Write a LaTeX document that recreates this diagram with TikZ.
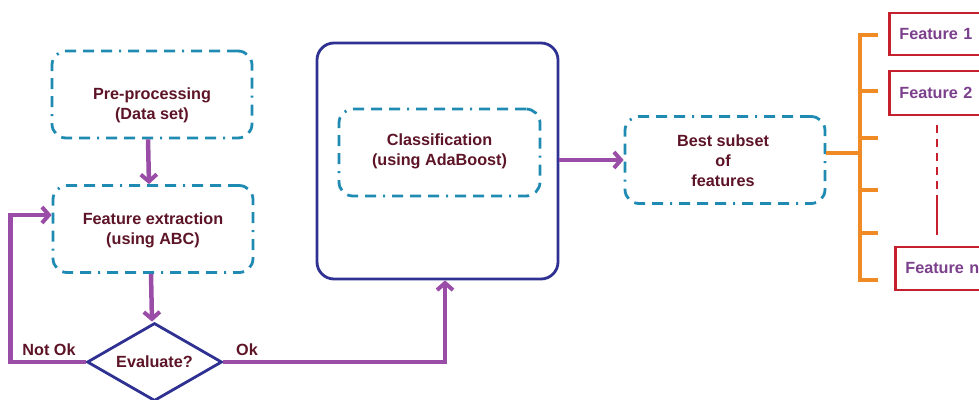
\documentclass[tikz,border=0pt]{standalone}
\usepackage{fontspec}
\setmainfont{Liberation Sans}
\usetikzlibrary{arrows.meta,shapes.geometric}

\definecolor{txtred}{HTML}{5C1426}
\definecolor{flowpurple}{HTML}{9A4DA6}
\definecolor{dashteal}{HTML}{1F8BB2}
\definecolor{frameblue}{HTML}{2E3192}
\definecolor{branchorange}{HTML}{F08A24}
\definecolor{featred}{HTML}{C4202E}
\definecolor{feattext}{HTML}{7B3F8C}

\tikzset{
  dashbox/.style={draw=dashteal, line width=2.8pt, rounded corners=14pt,
    dash pattern=on 11pt off 7pt on 11pt off 7pt on 11pt off 7pt on 2pt off 7pt,
    minimum width=200pt, minimum height=87pt, inner sep=0pt},
  lbl/.style={text=txtred, font=\fontsize{16.2}{20}\selectfont\bfseries, align=center, inner sep=0pt},
  flow/.style={draw=flowpurple, line width=4.5pt,
    -{Straight Barb[length=7pt,width=16pt,line width=4pt]}},
  featbox/.style={draw=featred, line width=2.8pt, text=feattext,
    font=\fontsize{16.2}{18}\selectfont\bfseries, minimum height=42pt,
    text width=92pt, inner xsep=10pt, align=left, anchor=west},
  branch/.style={draw=branchorange, line width=4.5pt},
}

\begin{document}
\begin{tikzpicture}[x=1pt,y=-1pt]
\useasboundingbox (0,0) rectangle (979,399);

% left column: preprocessing and feature extraction
\node[dashbox] (pre) at (152,94.5) {};
\node[lbl] (pretext) at (152,105) {Pre-processing\\(Data set)};
\node[dashbox] (feat) at (153,229) {};
\node[lbl] (feattxt) at (153,230) {Feature extraction\\(using ABC)};

% decision
\node[draw=frameblue, line width=2.8pt, diamond, shape aspect=1.73,
      minimum width=135pt, minimum height=78pt, inner sep=0pt,
      lbl] (eval) at (154.5,362) {Evaluate?};

% classification block
\node[draw=frameblue, line width=2.8pt, rounded corners=17pt,
      minimum width=241pt, minimum height=236pt, inner sep=0pt] (classout) at (437.5,161) {};
\node[dashbox, minimum width=201pt] (classin) at (439.5,152.5) {};
\node[lbl] (classtxt) at (439.5,151) {Classification\\(using AdaBoost)};

% result
\node[dashbox] (best) at (725,160) {};
\node[lbl] (besttxt) at (723,161) {Best subset\\of\\features};

% flow arrows
\draw[flow] ([xshift=-4pt]pre.south) -- ([xshift=-4pt]feat.north);
\draw[flow] ([xshift=-2pt]feat.south) -- ([xshift=-2.5pt]eval.north);
\draw[flow] (eval.west) -- ++(-75,0) coordinate (loopturn) |- ([yshift=14pt]feat.west);
\draw[flow] (eval.east) -| ([xshift=7.5pt]classout.south);
\draw[flow] (best.west -| classout.east) -- (best.west);

\node[lbl, anchor=south] (notok) at (49,356) {Not Ok};
\node[lbl, anchor=south] (ok) at (247,356) {Ok};

% branching to the selected features
\coordinate (bartop) at (860,35);
\coordinate (barbot) at (860,280);
\draw[branch] ([yshift=7pt]best.east) -- ([yshift=7pt]best.east -| bartop);
\draw[branch, line cap=rect] (bartop) -- (barbot);
\foreach \yy/\nm in {35/t1,91/t2,138/t3,190/t4,233/t5,280/t6}{
  \coordinate (\nm) at (878,\yy);
  \draw[branch] (860,\yy) -- (\nm);
}

\node[featbox] (f1) at (888,34) {Feature 1};
\node[featbox, minimum height=44pt] (f2) at (888,93) {Feature 2};
\node[featbox, minimum height=43pt] (fn) at (894,268.5) {Feature n};

% ellipsis between feature 2 and feature n
\coordinate (dtop) at (937,125);
\coordinate (dmid) at (937,196);
\coordinate (dbot) at (937,235);
\draw[featred, line width=2.5pt, dash pattern=on 8pt off 6pt] (dtop) -- (dmid);
\draw[featred, line width=2.5pt] (dmid) -- (dbot);
\end{tikzpicture}
\end{document}
